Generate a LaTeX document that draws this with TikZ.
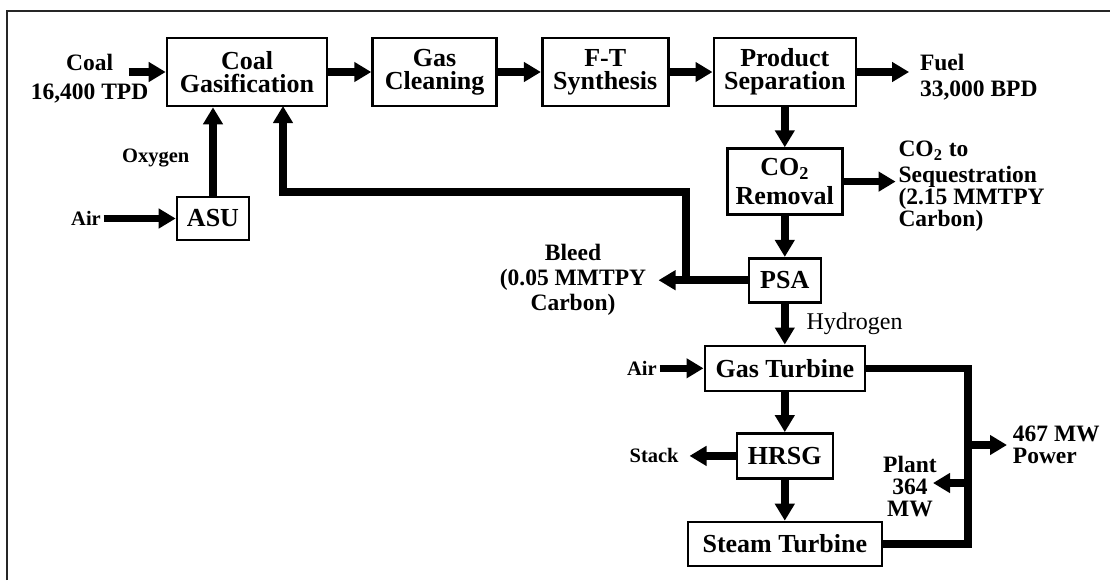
\documentclass[tikz,border=0pt]{standalone}
\usepackage{fontspec}
\setmainfont{Liberation Serif}
\usetikzlibrary{arrows.meta,positioning}
\newcommand{\unitfont}{\bfseries\fontsize{13}{11.5}\selectfont}
\newcommand{\tagfont}{\bfseries\fontsize{11.75}{11}\selectfont}
\newcommand{\smalltagfont}{\bfseries\fontsize{10.25}{10}\selectfont}

\begin{document}
\begin{tikzpicture}[x=0.5pt, y=-0.5pt, node distance=20.5pt,
  unit/.style={draw, line width=1.3pt, align=center, font=\unitfont, inner sep=1pt},
  tag/.style={align=center, font=\tagfont, inner sep=1.25pt},
  smalltag/.style={font=\smalltagfont, inner sep=1.25pt},
  flow/.style={line width=3.75pt, -{Triangle[length=8.5pt, width=9.5pt]}},
  pipe/.style={line width=3.75pt}]
\useasboundingbox (0,0) rectangle (1110,580);
\draw[line width=1pt, black!85] (7,580) |- (1110,11);

\node[unit, minimum width=80pt, minimum height=34pt] (gasif) at (247,72) {Coal\\Gasification};
\node[unit, minimum width=62pt, minimum height=34pt, right=21.5pt of gasif] (clean) {Gas\\Cleaning};
\node[unit, minimum width=63pt, minimum height=34pt, right=21.5pt of clean] (ft) {F-T\\Synthesis};
\node[unit, minimum width=71pt, minimum height=34pt, right=21.5pt of ft] (prodsep) {Product\\Separation};
\node[unit, minimum width=57.5pt, minimum height=33pt, below=20pt of prodsep] (co2) {CO\textsubscript{2}\\[3pt]Removal};
\node[unit, minimum width=36pt, minimum height=22pt, below=of co2] (psa) {PSA};
\node[unit, minimum width=80pt, minimum height=22.5pt, below=of psa] (gt) {Gas Turbine};
\node[unit, minimum width=48pt, minimum height=22.5pt, below=20pt of gt] (hrsg) {HRSG};
\node[unit, minimum width=97pt, minimum height=22pt, below=of hrsg] (st) {Steam Turbine};
\node[unit, minimum width=36pt, minimum height=21.5pt] (asu) at (213,218.5) {ASU};

\coordinate[left=18.5pt of gasif] (coalin);
\node[tag, left=7.25pt of gasif, yshift=-3.5pt] (coal) {Coal\\[3.5pt]16,400 TPD};
\node[tag, align=left, right=30pt of prodsep, yshift=-2.5pt] (fuel) {Fuel\\[2pt]33,000 BPD};
\node[tag, align=left, right=26pt of co2, yshift=-2.5pt] (seq) {CO\textsubscript{2} to\\[2pt]Sequestration\\(2.15 MMTPY\\Carbon)};
\node[smalltag, left=36pt of asu] (air) {Air};
\node[tag, left=49.25pt of psa] (bleed) {Bleed\\[1.5pt](0.05 MMTPY\\[1.5pt]Carbon)};
\node[smalltag, left=22pt of gt] (gtair) {Air};
\node[smalltag, left=27pt of hrsg] (stack) {Stack};

\coordinate (loop) at (686,192);
\coordinate (split) at (psa.west -| loop);
\coordinate (recyc) at (283,106);
\coordinate (bus) at (968,445);
\coordinate (plantbus) at (968,483);
\coordinate[left=17.5pt of plantbus] (plantin);
\node[tag, align=left, right=21pt of bus] (power) {467 MW\\Power};
\node[tag] (plant) at (910,487) {Plant\\364\\MW};

\draw[flow] (coalin) -- (gasif);
\draw[flow] (gasif) -- (clean);
\draw[flow] (clean) -- (ft);
\draw[flow] (ft) -- (prodsep);
\draw[flow, shorten >=4pt] (prodsep.east) -- (prodsep.east -| fuel.west);
\draw[flow] (prodsep) -- (co2);
\draw[flow] (co2.east) -- (co2.east -| seq.west);
\draw[flow] (co2) -- (psa);
\draw[flow] (psa) -- node[right=7.75pt, pos=0.5, inner sep=1.25pt, font=\fontsize{12}{12}\selectfont] (hydro) {Hydrogen} (gt);
\draw[flow, shorten >=4.75pt] (psa) -- (bleed);
\draw[flow] (split) -- (loop) -| (recyc);
\draw[flow] (air) -- (asu);
\draw[flow] (asu.north) -- node[smalltag, left=8.75pt, pos=0.43] (oxygen) {Oxygen} (asu.north |- gasif.south);
\draw[flow] (gtair) -- (gt);
\draw[flow] (gt) -- (hrsg);
\draw[flow, shorten >=4pt] (hrsg) -- (stack);
\draw[flow] (hrsg) -- (st);
\draw[pipe] (gt.east) -| (bus) |- (st.east);
\draw[flow, shorten >=1.5pt] (bus) -- (power);
\draw[flow] (plantbus) -- (plantin);
\end{tikzpicture}
\end{document}
